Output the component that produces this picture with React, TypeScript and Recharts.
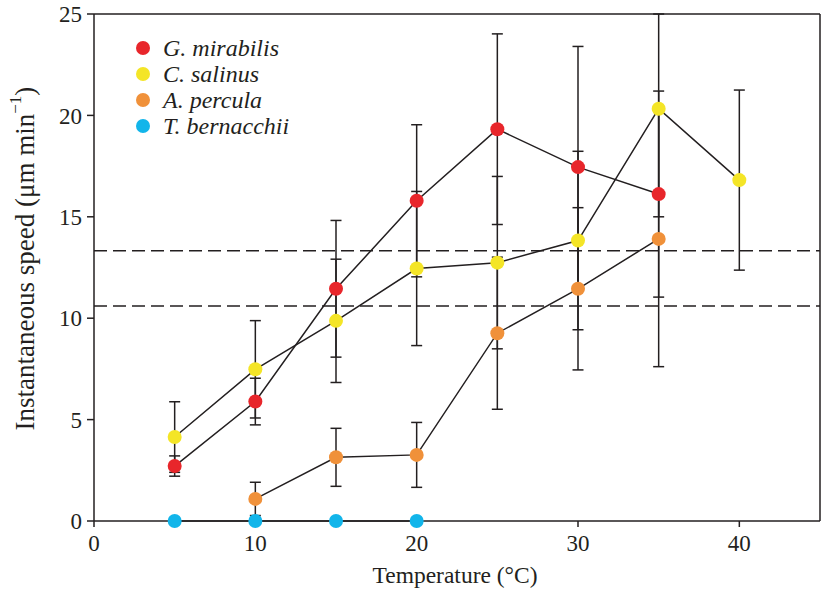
import React from 'react';
import { LineChart, Line, XAxis, YAxis, ErrorBar, ReferenceLine } from 'recharts';

const mirabilisTemps = [5, 10, 15, 20, 25, 30, 35];
const mirabilisSpeed = [2.71, 5.89, 11.45, 15.79, 19.32, 17.45, 16.12];
const mirabilisErr = [0.5, 1.15, 3.37, 3.75, 4.7, 5.95, 5.08];

const salinusTemps = [5, 10, 15, 20, 25, 30, 35, 40];
const salinusSpeed = [4.14, 7.48, 9.87, 12.45, 12.74, 13.83, 20.33, 16.81];
// the bar at 35 °C runs past the top of the frame, so its upper arm stops at 25
const salinusErr: (number | number[])[] = [1.74, 2.4, 3.04, 3.8, 4.25, 4.4, [5.33, 4.67], 4.44];

const perculaTemps = [10, 15, 20, 25, 30, 35];
const perculaSpeed = [1.09, 3.14, 3.26, 9.26, 11.45, 13.91];
const perculaErr = [0.82, 1.43, 1.6, 3.75, 4.0, 6.3];

const bernacchiiTemps = [5, 10, 15, 20];
const bernacchiiSpeed = [0, 0, 0, 0];

const thresholds = [13.32, 10.6];
const xTicks = [0, 10, 20, 30, 40];
const yTicks = [0, 5, 10, 15, 20, 25];

const species = [
  { name: 'G. mirabilis', color: '#E8262B' },
  { name: 'C. salinus', color: '#F4E527' },
  { name: 'A. percula', color: '#F0913A' },
  { name: 'T. bernacchii', color: '#12B5EA' },
];

const toRows = (temps: number[], speed: number[], err?: (number | number[])[]) =>
  temps.map((t, i) => ({ temp: t, speed: speed[i], err: err ? err[i] : 0 }));

const FONT = '"Liberation Serif", "Times New Roman", serif';
const INK = '#231F20';

const LegendBox = () => (
  <svg width={200} height={120} style={{ position: 'absolute', left: 134, top: 36 }}>
    {species.map((s, i) => (
      <g key={s.name}>
        <circle cx={9} cy={12 + i * 26} r={7} fill={s.color} />
        <text x={29} y={20 + i * 26} fontFamily={FONT} fontStyle="italic" fontSize={24} fill={INK}>
          {s.name}
        </text>
      </g>
    ))}
  </svg>
);

const YLabel = ({ viewBox }: any) => {
  const cy = viewBox ? viewBox.y + viewBox.height / 2 - 9 : 259;
  return (
    <text
      x={25}
      y={cy}
      transform={`rotate(-90, 25, ${cy})`}
      textAnchor="middle"
      dominantBaseline="central"
      fontFamily={FONT}
      fontSize={27}
      fill={INK}
    >
      Instantaneous speed (μm min
      <tspan dy={-10} fontSize={17}>−1</tspan>
      <tspan dy={10}>)</tspan>
    </text>
  );
};

const XLabel = ({ viewBox }: any) => (
  <text
    x={viewBox ? viewBox.x + viewBox.width / 2 - 2 : 455}
    y={583}
    textAnchor="middle"
    fontFamily={FONT}
    fontSize={23.5}
    fill={INK}
  >
    Temperature (°C)
  </text>
);

export default function App() {
  const tickStyle = { fontSize: 23, fill: INK, fontFamily: FONT };
  const errProps = { dataKey: 'err', direction: 'y' as const, width: 5.5, stroke: INK, strokeWidth: 1.5 };
  return (
    <div style={{ position: 'absolute', left: 0, top: 0, background: '#fff' }}>
      <LineChart width={825} height={590} margin={{ top: 14, right: 5, bottom: 0, left: 0 }}>
        <XAxis
          dataKey="temp"
          type="number"
          domain={[0, 45]}
          ticks={xTicks}
          tick={tickStyle}
          tickSize={6}
          tickMargin={8}
          stroke={INK}
          strokeWidth={1.5}
          height={69}
          label={<XLabel />}
        />
        <YAxis
          type="number"
          domain={[0, 25]}
          ticks={yTicks}
          tick={tickStyle}
          tickSize={7}
          tickMargin={5}
          stroke={INK}
          strokeWidth={1.5}
          width={94}
          label={<YLabel />}
        />
        <ReferenceLine y={25} stroke={INK} strokeWidth={1.5} />
        <ReferenceLine x={45} stroke={INK} strokeWidth={1.5} />
        {thresholds.map((v) => (
          <ReferenceLine key={v} y={v} stroke={INK} strokeWidth={1.5} strokeDasharray="13 6" />
        ))}
        <Line
          data={toRows(bernacchiiTemps, bernacchiiSpeed)}
          dataKey="speed"
          name="T. bernacchii"
          stroke={INK}
          strokeWidth={1.5}
          dot={{ r: 7, fill: species[3].color, stroke: 'none' }}
          isAnimationActive={false}
        />
        <Line
          data={toRows(salinusTemps, salinusSpeed, salinusErr)}
          dataKey="speed"
          name="C. salinus"
          stroke={INK}
          strokeWidth={1.5}
          dot={{ r: 7, fill: species[1].color, stroke: 'none' }}
          isAnimationActive={false}
        >
          <ErrorBar {...errProps} />
        </Line>
        <Line
          data={toRows(perculaTemps, perculaSpeed, perculaErr)}
          dataKey="speed"
          name="A. percula"
          stroke={INK}
          strokeWidth={1.5}
          dot={{ r: 7, fill: species[2].color, stroke: 'none' }}
          isAnimationActive={false}
        >
          <ErrorBar {...errProps} />
        </Line>
        <Line
          data={toRows(mirabilisTemps, mirabilisSpeed, mirabilisErr)}
          dataKey="speed"
          name="G. mirabilis"
          stroke={INK}
          strokeWidth={1.5}
          dot={{ r: 7, fill: species[0].color, stroke: 'none' }}
          isAnimationActive={false}
        >
          <ErrorBar {...errProps} />
        </Line>
      </LineChart>
      <LegendBox />
    </div>
  );
}
